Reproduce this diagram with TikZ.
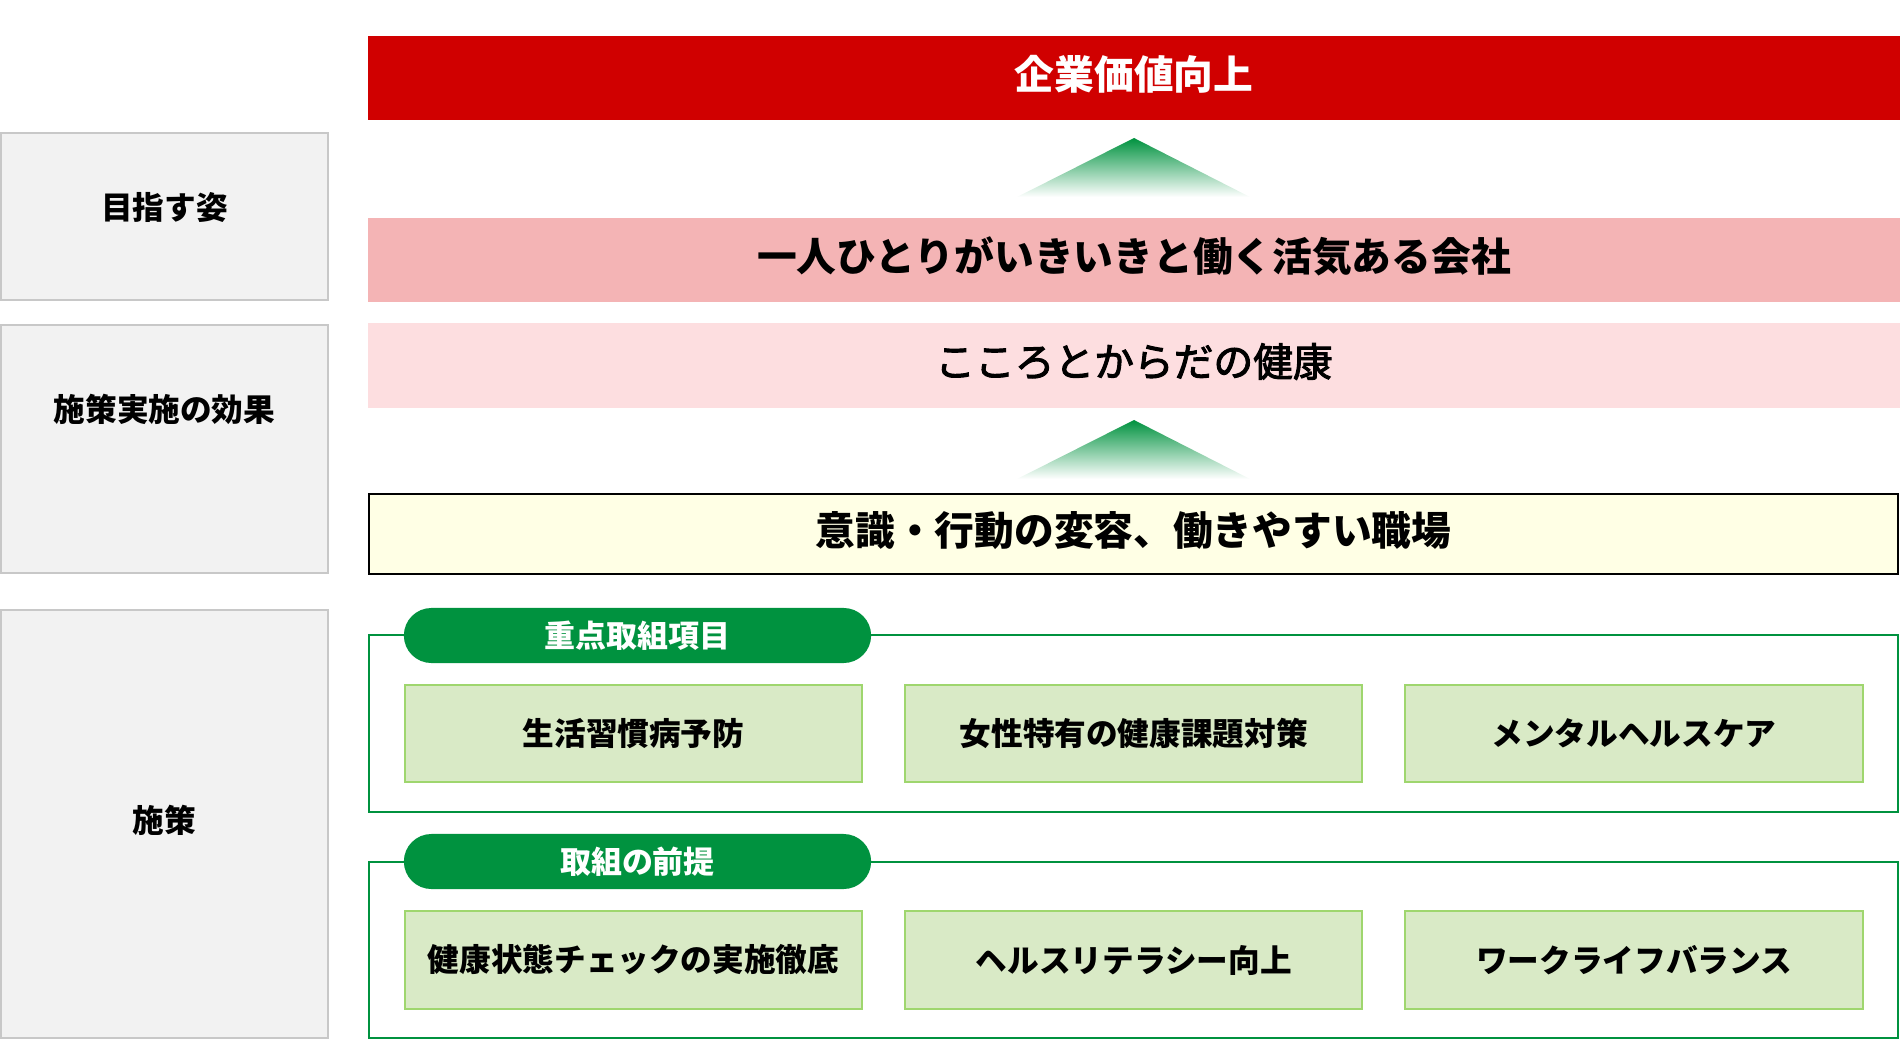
\documentclass[tikz,border=0pt]{standalone}
\usepackage{fontspec}
\setmainfont{Noto Sans CJK JP}
\newfontfamily\medfont[FakeBold=2.5]{Noto Sans CJK JP}
\usetikzlibrary{positioning,shapes.misc}
\definecolor{kred}{HTML}{D00000}
\definecolor{kpink}{HTML}{F4B4B5}
\definecolor{klpink}{HTML}{FDDEE0}
\definecolor{kyellow}{HTML}{FFFFE5}
\definecolor{kgray}{HTML}{F2F2F2}
\definecolor{kgrayline}{HTML}{C8C8C8}
\definecolor{kgreen}{HTML}{00923F}
\definecolor{klgreen}{HTML}{D9EAC6}
\definecolor{kgreenline}{HTML}{9FD66E}

\begin{document}
\begin{tikzpicture}[x=0.01cm,y=-0.01cm,inner sep=0pt,node distance=0.41cm,
	bar/.style={minimum width=15.32cm,minimum height=0.84cm,text height=0.35cm,text depth=0.13cm,font=\fontsize{11.3}{13}\selectfont\bfseries},
	lab/.style={draw=kgrayline,fill=kgray,line width=0.02cm,minimum width=3.27cm,text height=0.28cm,text depth=#1,font=\fontsize{9}{11}\selectfont\bfseries},
	grp/.style={draw=kgreen,line width=0.02cm,minimum width=15.29cm},
	tag/.style={rounded rectangle,fill=kgreen,text=white,minimum width=4.67cm,minimum height=0.55cm,font=\fontsize{8.8}{10}\selectfont\bfseries},
	item/.style={draw=kgreenline,fill=klgreen,line width=0.02cm,minimum width=4.57cm,minimum height=0.97cm,font=\fontsize{9}{11}\selectfont\bfseries},
	up/.style={top color=kgreen,bottom color=white}]
	\useasboundingbox (0,0) rectangle (1900,1040);
	% left column
	\node[lab=0.21cm,minimum height=1.67cm] (lab_0) at (164.5,216.5) {目指す姿};
	\node[lab=0.82cm,minimum height=2.48cm] (lab_1) at (164.5,449) {施策実施の効果};
	\node[lab=0.12cm,minimum height=4.28cm] (lab_2) at (164.5,824) {施策};
	% goal and effects
	\node[bar,fill=kred,text=white] (bar_0) at (1134,78) {企業価値向上};
	\node[bar,fill=kpink] (bar_1) at (1134,260) {一人ひとりがいきいきと働く活気ある会社};
	\node[bar,fill=klpink,font=\fontsize{11.3}{13}\medfont] (bar_2) at (1134,365.5) {こころとからだの健康};
	\node[bar,draw=black,line width=0.02cm,fill=kyellow,minimum width=15.29cm,minimum height=0.8cm] (bar_3) at (1133.5,534) {意識・行動の変容、働きやすい職場};
	\shade[up] (1134,138) -- (1250,197) -- (1017,197) -- cycle;
	\shade[up] (1134,420) -- (1250,479) -- (1017,479) -- cycle;
	% measures
	\node[grp,minimum height=1.77cm] (grp_0) at (1133.5,723.5) {};
	\node[tag] (tag_0) at (637.5,635.5) {重点取組項目};
	\node[item] (m_0) at (633.5,733.5) {生活習慣病予防};
	\node[item] [right= of m_0] (m_1) {女性特有の健康課題対策};
	\node[item] [right= of m_1] (m_2) {メンタルヘルスケア};
	\node[grp,minimum height=1.76cm] (grp_1) at (1133.5,950) {};
	\node[tag] (tag_1) at (637.5,861.5) {取組の前提};
	\node[item] (m_3) at (633.5,960) {健康状態チェックの実施徹底};
	\node[item] [right= of m_3] (m_4) {ヘルスリテラシー向上};
	\node[item] [right= of m_4] (m_5) {ワークライフバランス};
\end{tikzpicture}
\end{document}
